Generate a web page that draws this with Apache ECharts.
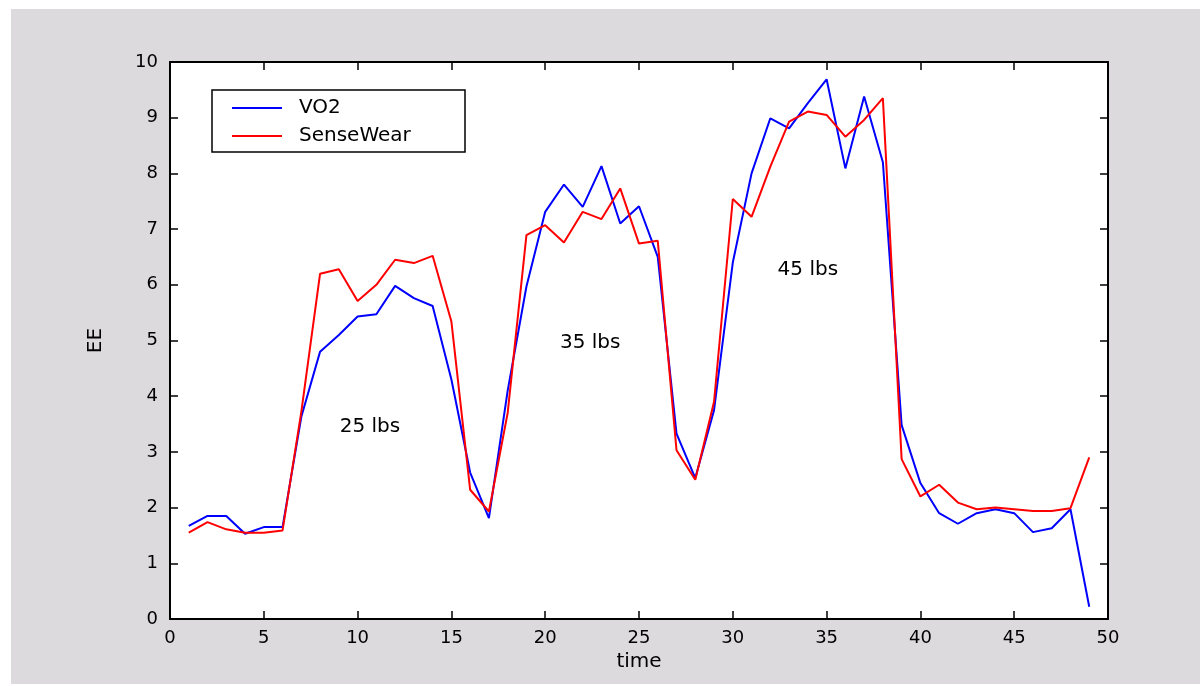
<!DOCTYPE html>
<html>
<head>
<meta charset="utf-8">
<script src="https://cdn.jsdelivr.net/npm/echarts@6/dist/echarts.min.js"></script>
<style>
  html, body { margin: 0; padding: 0; background: #fff; }
  #chart { width: 1200px; height: 686px; }
</style>
</head>
<body>
<div id="chart"></div>
<script>
// time points
const time = [1, 2, 3, 4, 5, 6, 7, 8, 9, 10, 11, 12, 13, 14, 15, 16, 17, 18, 19, 20,
  21, 22, 23, 24, 25, 26, 27, 28, 29, 30, 31, 32, 33, 34, 35, 36, 37, 38, 39, 40,
  41, 42, 43, 44, 45, 46, 47, 48, 49]
const vo2 = [1.67, 1.85, 1.85, 1.53, 1.65, 1.65, 3.63, 4.8, 5.1, 5.43, 5.47, 5.98, 5.76, 5.62,
  4.3, 2.63, 1.81, 4.1, 5.97, 7.31, 7.8, 7.4, 8.13, 7.1, 7.41, 6.5, 3.33, 2.53, 3.75,
  6.4, 8.0, 8.99, 8.81, 9.26, 9.69, 8.09, 9.38, 8.2, 3.48, 2.44, 1.9, 1.71, 1.9, 1.97,
  1.9, 1.56, 1.63, 1.97, 0.22]
const senseWear = [1.55, 1.74, 1.61, 1.55, 1.55, 1.59, 3.72, 6.2, 6.28, 5.71, 6.0, 6.45, 6.39, 6.52,
  5.34, 2.32, 1.93, 3.7, 6.89, 7.07, 6.76, 7.31, 7.18, 7.73, 6.74, 6.79, 3.03, 2.5, 3.9,
  7.54, 7.22, 8.12, 8.93, 9.11, 9.05, 8.66, 8.96, 9.35, 2.87, 2.2, 2.41, 2.09, 1.97, 2.0,
  1.97, 1.94, 1.94, 1.99, 2.9]
// text annotations (data coords)
const noteText = ['25 lbs', '35 lbs', '45 lbs']
const noteX = [10.66, 22.4, 34.0]
const noteY = [3.45, 4.96, 6.27]

const font = 'DejaVu Sans'
const chart = echarts.init(document.getElementById('chart'))

const frameAxis = (pos, labels) => ({
  type: 'value',
  position: pos,
  axisLine: { show: true, onZero: false, lineStyle: { color: '#000', width: 2 } },
  axisTick: { show: true, inside: true, length: 8, lineStyle: { color: '#000', width: 1.5 } },
  axisLabel: { show: labels, color: '#000', fontFamily: font, fontSize: 18 },
  splitLine: { show: false }
})

const option = {
  backgroundColor: '#fff',
  animation: false,
  graphic: [
    { type: 'rect', z: -10, shape: { x: 11, y: 9, width: 1189, height: 675 }, style: { fill: '#dcdadd' } },
    { type: 'rect', z: 0, shape: { x: 212, y: 90, width: 253, height: 62 }, style: { fill: '#fff', stroke: '#000', lineWidth: 1.5 } }
  ],
  grid: { left: 170, right: 92, top: 62, bottom: 67, show: true, backgroundColor: '#fff', borderWidth: 0 },
  legend: {
    data: ['VO2', 'SenseWear'],
    orient: 'vertical',
    left: 227,
    top: 93,
    z: 10,
    icon: 'rect',
    itemWidth: 50,
    itemHeight: 2,
    itemGap: 8,
    textStyle: { color: '#000', fontFamily: font, fontSize: 20, padding: [0, 0, 0, 12] }
  },
  xAxis: [
    Object.assign(frameAxis('bottom', true), {
      min: 0, max: 50, interval: 5,
      name: 'time', nameLocation: 'middle', nameGap: 32,
      nameTextStyle: { color: '#000', fontFamily: font, fontSize: 20 },
      axisLabel: { show: true, color: '#000', fontFamily: font, fontSize: 18, margin: 10 }
    }),
    Object.assign(frameAxis('top', false), { min: 0, max: 50, interval: 5 })
  ],
  yAxis: [
    Object.assign(frameAxis('left', true), {
      min: 0, max: 10, interval: 1,
      name: 'EE', nameLocation: 'middle', nameGap: 64,
      nameTextStyle: { color: '#000', fontFamily: font, fontSize: 20 },
      axisLabel: { show: true, color: '#000', fontFamily: font, fontSize: 18, margin: 12 }
    }),
    Object.assign(frameAxis('right', false), { min: 0, max: 10, interval: 1 })
  ],
  series: [
    {
      name: 'VO2',
      type: 'line',
      symbol: 'none',
      color: '#0000ff',
      lineStyle: { width: 2 },
      data: time.map((t, i) => [t, vo2[i]])
    },
    {
      name: 'SenseWear',
      type: 'line',
      symbol: 'none',
      color: '#ff0000',
      lineStyle: { width: 2 },
      data: time.map((t, i) => [t, senseWear[i]])
    },
    {
      name: 'notes',
      type: 'scatter',
      symbolSize: 0,
      silent: true,
      itemStyle: { opacity: 1 },
      label: {
        show: true,
        position: 'inside',
        color: '#000',
        opacity: 1,
        fontFamily: font,
        fontSize: 20,
        formatter: p => p.value[2]
      },
      data: noteText.map((s, i) => [noteX[i], noteY[i], s])
    }
  ]
}

chart.setOption(option)
</script>
</body>
</html>
